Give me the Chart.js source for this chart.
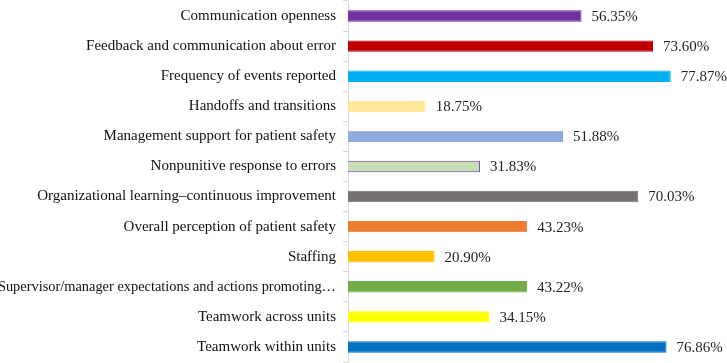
<!DOCTYPE html>
<html lang="en">
<head>
    <meta charset="UTF-8">
    <title>Patient safety culture dimensions</title>
    <script src="https://cdn.jsdelivr.net/npm/chart.js"></script>
    <style>
        html, body {
            margin: 0;
            padding: 0;
            background: #ffffff;
        }
        .chart-container {
            position: relative;
            width: 727px;
            height: 363px;
        }
    </style>
</head>
<body>
    <div class="chart-container">
        <canvas id="safetyChart"></canvas>
    </div>

    <script>
        const dimensions = [
            'Communication openness',
            'Feedback and communication about error',
            'Frequency of events reported',
            'Handoffs and transitions',
            'Management support for patient safety',
            'Nonpunitive response to errors',
            'Organizational learning\u2013continuous improvement',
            'Overall perception of patient safety',
            'Staffing',
            'Supervisor/manager expectations and actions promoting\u2026',
            'Teamwork across units',
            'Teamwork within units'
        ];
        const positiveRates = [56.35, 73.60, 77.87, 18.75, 51.88, 31.83, 70.03, 43.23, 20.90, 43.22, 34.15, 76.86];
        const barColors = ['#7030a0', '#c00000', '#00b0f0', '#ffe699', '#8faadc', '#c5e0b4',
                           '#767171', '#ed7d31', '#ffc000', '#70ad47', '#ffff00', '#0070c0'];
        const barBorders = ['#7030a0', '#c00000', '#00b0f0', '#ffe699', '#8faadc', '#7030a0',
                            '#767171', '#ed7d31', '#ffc000', '#70ad47', '#ffff00', '#0070c0'];

        const serif = "'Liberation Serif', 'Times New Roman', serif";

        // writes the percentage just past the end of every bar
        const valueLabels = {
            id: 'valueLabels',
            afterDatasetsDraw(chart) {
                const ctx = chart.ctx;
                const meta = chart.getDatasetMeta(0);
                ctx.save();
                ctx.font = '15px ' + serif;
                ctx.fillStyle = '#1f1f1f';
                ctx.textAlign = 'left';
                ctx.textBaseline = 'middle';
                meta.data.forEach((bar, i) => {
                    ctx.fillText(positiveRates[i].toFixed(2) + '%', bar.x + 10, bar.y + 1);
                });
                ctx.restore();
            }
        };

        new Chart(document.getElementById('safetyChart').getContext('2d'), {
            type: 'bar',
            data: {
                labels: dimensions,
                datasets: [{
                    data: positiveRates,
                    backgroundColor: barColors,
                    borderColor: barBorders,
                    borderWidth: 1,
                    barPercentage: 0.38,
                    categoryPercentage: 1
                }]
            },
            options: {
                indexAxis: 'y',
                responsive: true,
                maintainAspectRatio: false,
                animation: false,
                layout: {
                    padding: { top: 1, bottom: 1, right: 6, left: 0 }
                },
                plugins: {
                    legend: { display: false },
                    tooltip: { enabled: false }
                },
                scales: {
                    x: {
                        display: false,
                        min: 0,
                        max: 90
                    },
                    y: {
                        afterFit(scale) {
                            scale.width = 348;
                            scale.paddingTop = 0;
                            scale.paddingBottom = 0;
                        },
                        border: { color: '#d9d9d9', width: 1 },
                        grid: {
                            drawOnChartArea: false,
                            color: '#d9d9d9',
                            tickLength: 5
                        },
                        ticks: {
                            color: '#111111',
                            padding: 7,
                            autoSkip: false,
                            font: (c) => ({ family: serif, size: c.index === 9 ? 14.4 : 15 })
                        }
                    }
                }
            },
            plugins: [valueLabels]
        });
    </script>
</body>
</html>
